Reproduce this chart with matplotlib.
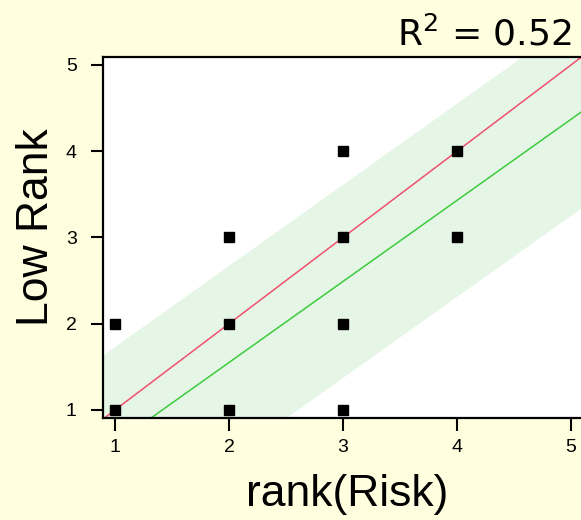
import numpy as np
import matplotlib
matplotlib.use("Agg")
import matplotlib.pyplot as plt

# Observed rank pairs
risk_rank = [1, 1, 2, 2, 2, 3, 3, 3, 3, 4, 4]
low_rank = [1, 2, 1, 2, 3, 1, 2, 3, 4, 3, 4]

# Fitted line and its band
fit_slope = 0.94
fit_intercept = -0.33
band_half_width = 1.12
r_squared = 0.52

x_ticks = [1, 2, 3, 4, 5]
y_ticks = [1, 2, 3, 4, 5]

W, H, DPI = 581, 520, 100
fig = plt.figure(figsize=(W / DPI, H / DPI), dpi=DPI)
fig.patch.set_facecolor("#FFFFE0")

x_lo, x_hi = 0.895, 5.18
y_lo, y_hi = 0.907, 5.093
px_per_x = 114.0
px_per_y = 86.25
left_px, bottom_px = 103, 418
ax_w_px = (x_hi - x_lo) * px_per_x
ax_h_px = (y_hi - y_lo) * px_per_y
ax = fig.add_axes([left_px / W, (H - bottom_px) / H, ax_w_px / W, ax_h_px / H])
ax.set_facecolor("white")
ax.set_xlim(x_lo, x_hi)
ax.set_ylim(y_lo, y_hi)

xs = np.array([x_lo, x_hi])
fit = fit_slope * xs + fit_intercept
ax.fill_between(xs, fit - band_half_width, fit + band_half_width,
                color="#E6F6E6", lw=0, zorder=1)
ax.plot(xs, fit, color="#3CCB3C", lw=1.1, zorder=2)
ax.plot(xs, xs, color="#F0506E", lw=1.1, zorder=2)

ax.plot(risk_rank, low_rank, "s", color="black", ms=7.2, zorder=3,
        clip_on=False)

ax.set_xticks(x_ticks)
ax.set_yticks(y_ticks)
font = "Liberation Sans"
for lab in ax.get_xticklabels() + ax.get_yticklabels():
    lab.set_fontfamily(font)
ax.tick_params(axis="both", direction="out", length=9, width=1.5,
               labelsize=14, colors="black")
ax.tick_params(axis="y", pad=10)
ax.tick_params(axis="x", pad=6)
for side in ("left", "bottom", "top", "right"):
    ax.spines[side].set_linewidth(1.6)
    ax.spines[side].set_color("black")

ax.set_xlabel("rank(Risk)", fontsize=32, fontfamily=font, labelpad=13)
ax.set_ylabel("Low Rank", fontsize=32, fontfamily=font)
ax.yaxis.set_label_coords((57 - left_px) / ax_w_px, (bottom_px - 227) / ax_h_px)

fig.text(572 / W, 1 - 46 / H, r"R$^2$ = %.2f" % r_squared,
         ha="right", va="baseline", fontsize=26, fontfamily="DejaVu Sans")

fig.savefig("out.png", dpi=DPI, facecolor=fig.get_facecolor())
